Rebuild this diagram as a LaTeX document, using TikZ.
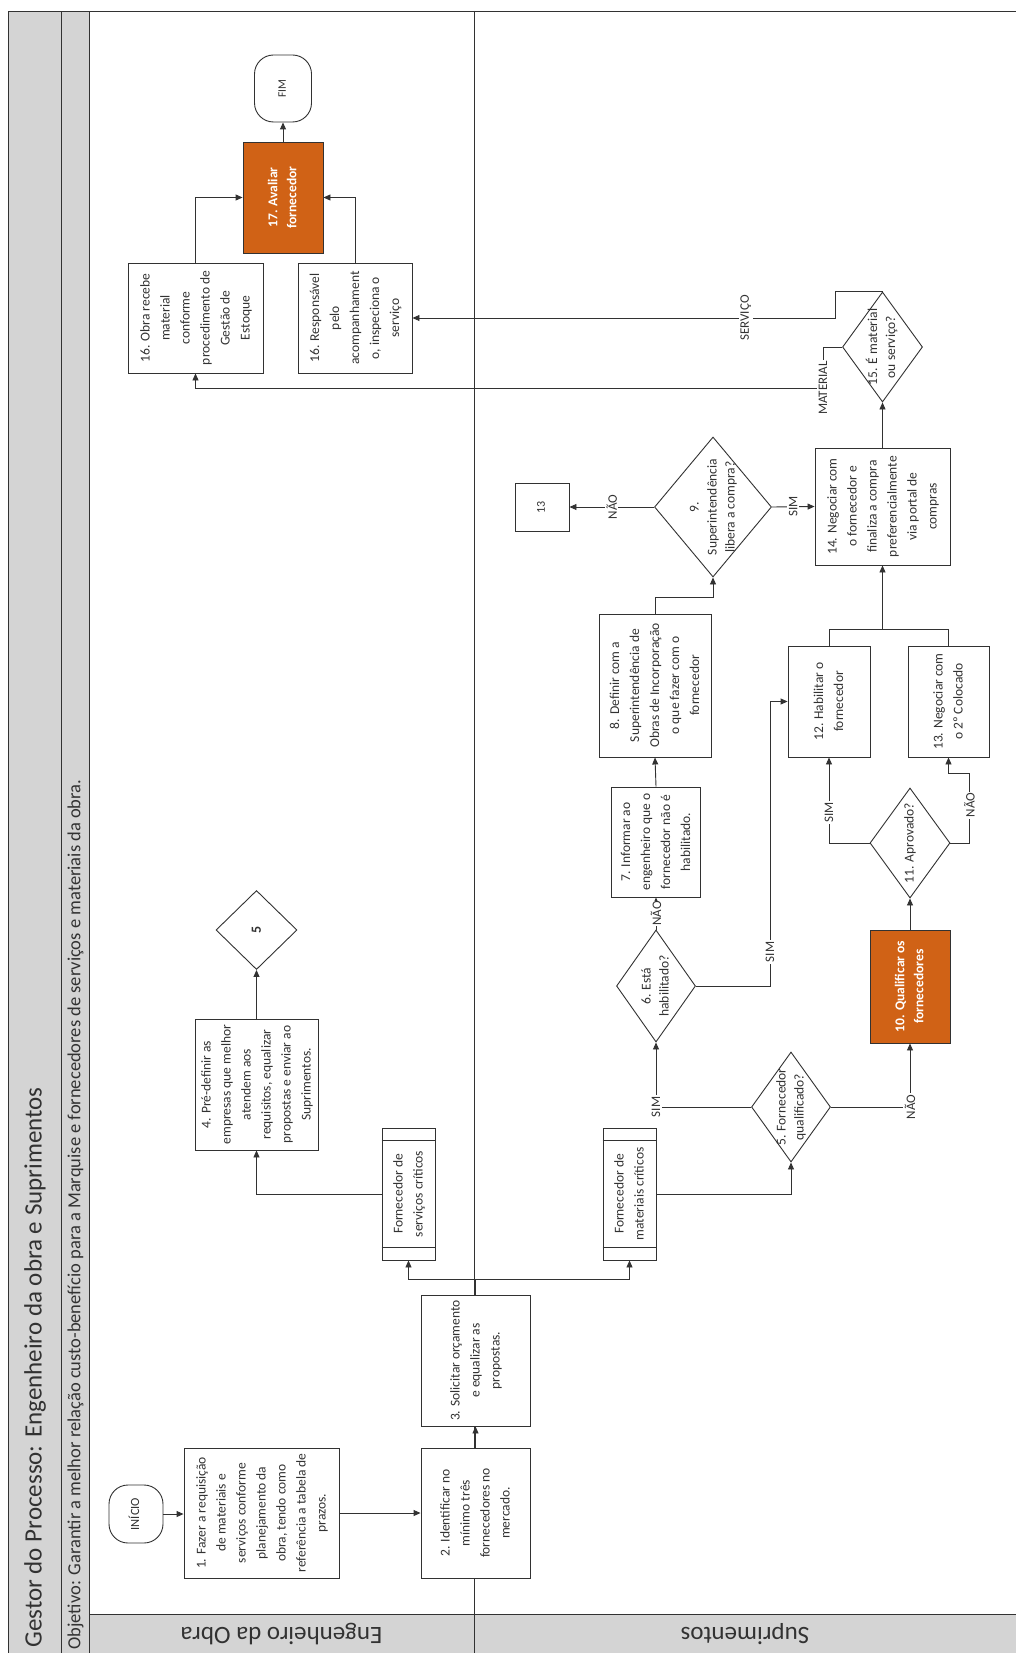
\documentclass[tikz,border=0pt]{standalone}
\usepackage{fontspec}
\setmainfont{Carlito}
\usepackage{graphicx}
\usetikzlibrary{arrows.meta,shapes.geometric,calc}

\definecolor{bandgray}{RGB}{212,212,212}
\definecolor{orangebox}{RGB}{208,98,22}
\definecolor{ink}{RGB}{50,50,50}

% text set vertically, reading from bottom to top
\newcommand\vtext[1]{\rotatebox{90}{\begin{tabular}{@{}c@{}}#1\end{tabular}}}

\begin{document}
\begin{tikzpicture}[x=1pt,y=1pt,line width=0.9pt,
  box/.style={draw=ink,fill=white,inner sep=0pt,align=center,text=ink,
    font=\fontsize{13.5}{20}\selectfont},
  hot/.style={box,fill=orangebox,text=white,font=\bfseries\fontsize{13.5}{19}\selectfont},
  term/.style={box,rounded corners=19pt},
  dia/.style={diamond,draw=ink,fill=white,inner sep=0pt},
  dtext/.style={inner sep=0pt,text=ink,font=\fontsize{13.5}{18}\selectfont},
  lbl/.style={fill=white,inner sep=1.5pt,text=ink,font=\fontsize{13}{15}\selectfont},
  sz/.style 2 args={minimum width=#1,minimum height=#2},
  arr/.style={draw=ink,-{Triangle[length=7pt,width=6pt]}},
  ln/.style={draw=ink}]

\useasboundingbox (0,0) rectangle (1016,-1653);

% ---- frame, header bands and lanes
\fill[white] (0,0) rectangle (1016,-1653);
\filldraw[fill=bandgray,draw=ink] (8,-11) rectangle (61,-1660);
\filldraw[fill=bandgray,draw=ink] (61,-11) rectangle (89,-1660);
\draw[ln] (8,-11) -- (1020,-11);
\filldraw[fill=bandgray,draw=ink] (89,-1614) rectangle (1020,-1660);
\draw[ln] (474,-11) -- (474,-1660);

\node[anchor=south,inner sep=0pt,text=ink,font=\fontsize{25}{28}\selectfont] (title) at (35,-1648)
  {\rotatebox{90}{Gestor do Processo: Engenheiro da obra e Suprimentos}};
\node[anchor=south,inner sep=0pt,text=ink,font=\fontsize{18.5}{20}\selectfont] (goal) at (75.5,-1650)
  {\rotatebox{90}{Objetivo: Garantir a melhor relação custo-benefício para a Marquise e fornecedores de serviços e materiais da obra.}};
\node[inner sep=0pt,text=ink,font=\fontsize{25}{28}\selectfont] (lane1) at (281.5,-1634)
  {\rotatebox{180}{Engenheiro da Obra}};
\node[inner sep=0pt,text=ink,font=\fontsize{25}{28}\selectfont] (lane2) at (745,-1634)
  {\rotatebox{180}{Suprimentos}};

% ---- process steps
\node[term,sz={54pt}{58pt},font=\fontsize{12.5}{15}\selectfont] (inicio) at (136,-1514) {\vtext{INÍCIO}};
\node[box,sz={155pt}{130pt}] (b1) at (261.5,-1513)
  {\vtext{1. Fazer a requisição\\de materiais e\\serviços conforme\\planejamento da\\obra, tendo como\\referência a tabela de\\prazos.}};
\node[box,sz={109pt}{130pt}] (b2) at (475.5,-1513)
  {\vtext{2. Identificar no\\mínimo três\\fornecedores no\\mercado.}};
\node[box,sz={109pt}{131pt}] (b3) at (475.5,-1360.5)
  {\vtext{3. Solicitar orçamento\\e equalizar as\\propostas.}};
\node[box,sz={53pt}{132pt}] (serv) at (408.5,-1194)
  {\vtext{Fornecedor de\\serviços críticos}};
\node[box,sz={53pt}{132pt}] (mat) at (629.5,-1194)
  {\vtext{Fornecedor de\\materiais críticos}};
\foreach \n in {serv,mat}{
  \draw[ln] ($(\n.north west)+(0,-13)$) -- ($(\n.north east)+(0,-13)$);
  \draw[ln] ($(\n.south west)+(0,13)$) -- ($(\n.south east)+(0,13)$);
}
\node[box,sz={123pt}{131pt}] (b4) at (256.5,-1084.5)
  {\vtext{4. Pré-definir as\\empresas que melhor\\atendem aos\\requisitos, equalizar\\propostas e enviar ao\\Suprimentos.}};
\node[dia,sz={81pt}{79pt}] (d5ref) at (256.5,-930) {};
\node[dtext,font=\bfseries\fontsize{14}{16}\selectfont] (d5reft) at (d5ref) {\rotatebox{90}{5}};

\node[dia,sz={79pt}{110pt}] (d5) at (791,-1107) {};
\node[dtext] (d5t) at (d5) {\vtext{5. Fornecedor\\qualificado?}};
\node[dia,sz={79pt}{112pt}] (d6) at (656,-986) {};
\node[dtext] (d6t) at (d6) {\vtext{6. Está\\habilitado?}};
\node[box,sz={89pt}{110pt}] (b7) at (656,-842)
  {\vtext{7. Informar ao\\engenheiro que o\\fornecedor não é\\habilitado.}};
\node[box,sz={112pt}{143pt}] (b8) at (655,-685.5)
  {\vtext{8. Definir com a\\Superintendência de\\Obras de Incorporação\\o que fazer com o\\fornecedor}};
\node[dia,sz={117pt}{140pt}] (d9) at (713,-507) {};
\node[dtext] (d9t) at (d9) {\vtext{9.\\Superintendência\\libera a compra?}};
\node[box,sz={54pt}{48pt},font=\fontsize{12}{14}\selectfont] (b13r) at (542,-507) {\vtext{13}};
\node[hot,sz={80pt}{113pt}] (b10) at (910,-986.5)
  {\vtext{10. Qualificar os\\fornecedores}};
\node[dia,sz={80pt}{110pt}] (d11) at (910,-843) {};
\node[dtext] (d11t) at (d11) {\vtext{11. Aprovado?}};
\node[box,sz={82pt}{111pt}] (b12) at (829,-701.5) {\vtext{12. Habilitar o\\fornecedor}};
\node[box,sz={81pt}{111pt}] (b13) at (948.5,-701.5) {\vtext{13. Negociar com\\o 2º Colocado}};
\node[box,sz={135pt}{117pt}] (b14) at (882.5,-506.5)
  {\vtext{14. Negociar com\\o fornecedor e\\finaliza a compra\\preferencialmente\\via portal de\\compras}};
\node[dia,sz={80pt}{110pt}] (d15) at (882.5,-347) {};
\node[dtext] (d15t) at (d15) {\vtext{15. É material\\ou serviço?}};
\node[box,sz={135pt}{110pt}] (b16a) at (195.5,-318)
  {\vtext{16. Obra recebe\\material\\conforme\\procedimento de\\Gestão de\\Estoque}};
\node[box,sz={114pt}{110pt}] (b16b) at (355,-318)
  {\vtext{16. Responsável\\pelo\\acompanhament\\o, inspeciona o\\serviço}};
\node[hot,sz={80pt}{111pt}] (b17) at (283,-197.5) {\vtext{17. Avaliar\\fornecedor}};
\node[term,sz={57pt}{67pt},font=\fontsize{11.5}{14}\selectfont] (fim) at (283,-88.5) {\vtext{FIM}};

% ---- connectors
\draw[arr] (inicio.east) -- (inicio.east -| b1.west);
\draw[arr] (b1.east) -- (b1.east -| b2.west);
\draw[arr] (b2.north) -- (b3.south);
\coordinate (j3) at ($(b3.north)+(0,15)$);
\draw[ln] (b3.north) -- (j3);
\draw[arr] (j3) -| (serv.south);
\draw[arr] (j3) -| (mat.south);
\draw[arr] (serv.west) -| (b4.south);
\draw[arr] (b4.north) -- (d5ref.south);
\draw[arr] (mat.east) -| (d5.south);
\draw[arr] (d5.west) -| node[lbl,pos=0.5]{\rotatebox{90}{SIM}} (d6.south);
\draw[arr] (d5.east) -| node[lbl,pos=0.5]{\rotatebox{90}{NÃO}} (b10.south);
\draw[arr] (d6.north) -- node[lbl,inner sep=0.5pt]{\rotatebox{90}{NÃO}} (b7.south);
\draw[arr] (d6.east) -- ++(74,0) |- node[lbl,pos=0.06]{\rotatebox{90}{SIM}} (b12.west);
\draw[arr] (b7.north) -- (b8.south);
\draw[arr] (b8.north) -- ++(0,16) -| (d9.south);
\draw[arr] (d9.west) -- node[lbl]{\rotatebox{90}{NÃO}} (b13r.east);
\draw[arr] (d9.east) -- node[lbl]{\rotatebox{90}{SIM}} (b14.west);
\draw[arr] (b10.north) -- (d11.south);
\draw[arr] (d11.west) -| node[lbl,pos=0.68]{\rotatebox{90}{SIM}} (b12.south);
\draw[arr] (d11.east) -- ++(19,0) -- node[lbl,pos=0.54]{\rotatebox{90}{NÃO}} ++(0,70) -| (b13.south);
\coordinate (m12) at ($(b12.north)+(0,16)$);
\draw[ln] (b12.north) -- (m12) -| (b13.north);
\draw[arr] (m12 -| b14.south) -- (b14.south);
\draw[arr] (b14.north) -- (d15.south);
\draw[arr] (d15.north) -- ++(-47,0) |- node[lbl,pos=0.606]{\rotatebox{90}{SERVIÇO}} (b16b.east);
\draw[arr] (d15.west) -- ++(-19,0) -- ++(0,-41) node[lbl]{\rotatebox{90}{MATERIAL}} -| (b16a.south);
\draw[arr] (b16a.north) |- (b17.west);
\draw[arr] (b16b.north) |- (b17.east);
\draw[arr] (b17.north) -- (fim.south);
\end{tikzpicture}
\end{document}
